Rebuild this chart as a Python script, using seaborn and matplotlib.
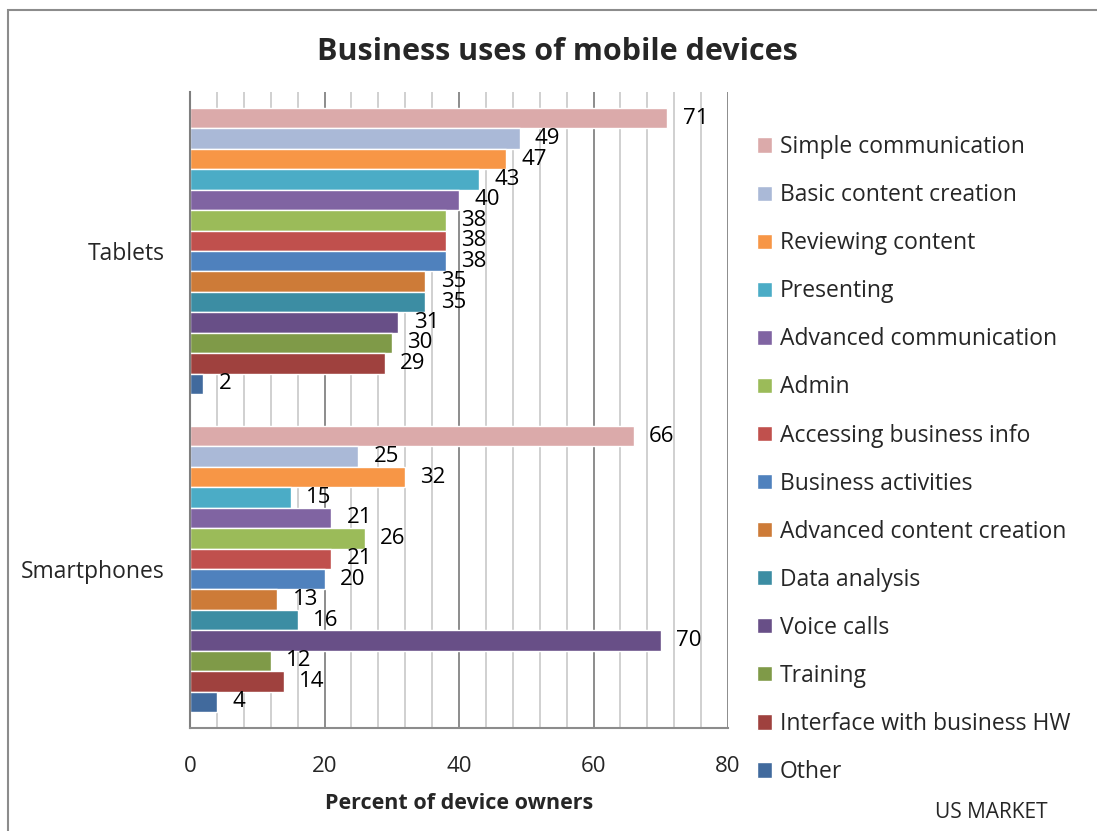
import matplotlib
matplotlib.use("Agg")
import matplotlib.pyplot as plt
from matplotlib.ticker import MultipleLocator
from matplotlib.patches import Rectangle
import seaborn as sns
import pandas as pd

devices = ["Tablets", "Smartphones"]
uses = ["Simple communication", "Basic content creation", "Reviewing content",
        "Presenting", "Advanced communication", "Admin", "Accessing business info",
        "Business activities", "Advanced content creation", "Data analysis",
        "Voice calls", "Training", "Interface with business HW", "Other"]
tablets = [71, 49, 47, 43, 40, 38, 38, 38, 35, 35, 31, 30, 29, 2]
smartphones = [66, 25, 32, 15, 21, 26, 21, 20, 13, 16, 70, 12, 14, 4]
colors = ["#DBAAAA", "#AAB9D7", "#F79646", "#4BACC6", "#8064A2", "#9BBB59",
          "#C0504D", "#4F81BD", "#CD7B38", "#3C8DA3", "#684F87", "#7F9A48",
          "#9F413E", "#416A9D"]

rows = []
for u, t, s in zip(uses, tablets, smartphones):
    rows.append({"device": "Tablets", "use": u, "value": t})
    rows.append({"device": "Smartphones", "use": u, "value": s})
df = pd.DataFrame(rows)

sns.set_theme(style="white")
plt.rcParams["font.family"] = ["Open Sans", "DejaVu Sans"]

fig = plt.figure(figsize=(10.97, 8.31), dpi=100)
ax = fig.add_axes([190/1097, 1-728/831, (728-190)/1097, (728-92)/831])

sns.barplot(data=df, y="device", x="value", hue="use", order=devices,
            hue_order=uses, palette=colors, orient="h", width=0.9,
            saturation=1, ax=ax, legend=True)

for cont in ax.containers:
    ax.bar_label(cont, padding=11, fontsize=16, color="black")

ax.set_xlim(0, 80)
ax.set_ylim(1.5, -0.5)
ax.xaxis.set_major_locator(MultipleLocator(20))
ax.xaxis.set_minor_locator(MultipleLocator(4))
ax.set_axisbelow(True)
ax.grid(True, axis="x", which="minor", color="#C8C8C8", linewidth=1.2)
ax.grid(True, axis="x", which="major", color="#8C8C8C", linewidth=1.4)
ax.tick_params(axis="x", which="both", length=0, labelsize=16, pad=20)
ax.tick_params(axis="y", length=0, labelsize=16.5, pad=18)
ax.set_ylabel("")
ax.set_xlabel("Percent of device owners", fontsize=15.5, fontweight="bold", labelpad=12)
for s in ["top", "right"]:
    ax.spines[s].set_visible(False)
ax.spines["left"].set_color("#7F7F7F")
ax.spines["left"].set_linewidth(1.5)
ax.spines["bottom"].set_color("#8C8C8C")
ax.spines["bottom"].set_linewidth(1.5)

handles, labels = ax.get_legend_handles_labels()
ax.get_legend().remove()
fig.legend(handles, labels, loc="upper left", bbox_to_anchor=(748/1097, 1-126/831),
           frameon=False, fontsize=16.5, handlelength=0.65, handleheight=0.65,
           handletextpad=0.35, labelspacing=1.05, borderaxespad=0)

fig.text(557/1097, 1-52/831, "Business uses of mobile devices", ha="center",
         va="center", fontsize=22, fontweight="bold")
fig.text(991/1097, 1-812/831, "US MARKET", ha="center", va="center", fontsize=15)

fig.patches.append(Rectangle((8/1097, -0.05), 1.1, 1-10/831+0.05,
                             transform=fig.transFigure, fill=False,
                             edgecolor="#8C8C8C", linewidth=1.5))

fig.savefig("out.png", dpi=100)
